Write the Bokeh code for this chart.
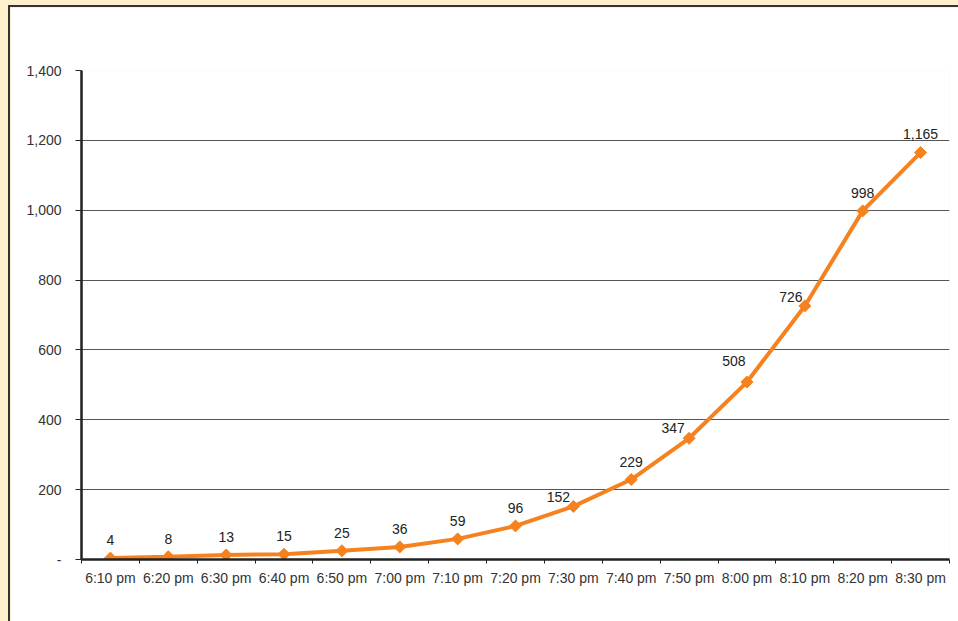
import numpy as np
from bokeh.plotting import figure
from bokeh.models import ColumnDataSource, FixedTicker, Range1d, LabelSet
from bokeh.core.properties import value
from bokeh.embed import file_html
from bokeh.resources import INLINE

times = ["6:10 pm", "6:20 pm", "6:30 pm", "6:40 pm", "6:50 pm", "7:00 pm", "7:10 pm",
         "7:20 pm", "7:30 pm", "7:40 pm", "7:50 pm", "8:00 pm", "8:10 pm", "8:20 pm", "8:30 pm"]
counts = [4, 8, 13, 15, 25, 36, 59, 96, 152, 229, 347, 508, 726, 998, 1165]
y_ticks = [0, 200, 400, 600, 800, 1000, 1200, 1400]

# label offsets (style only)
label_dx = [0, 0, 0, 0, 0, 0, 0, 0, -15, 0, -16, -13, -14, 0, 0]
label_dy = [13, 13, 13, 13, 13, 13, 13, 13, 4, 13, 5, 16, 4, 13, 14]

FONT = "Liberation Sans"
ORANGE = "#F5821F"
FS = "14px"

x = np.arange(len(times)) + 0.5
src = ColumnDataSource(dict(
    x=x, y=counts,
    lbl=[f"{v:,}" for v in counts],
    dx=label_dx, dy=label_dy,
))

p = figure(width=950, height=616, output_backend="svg", toolbar_location=None,
           x_range=Range1d(0, len(times)), y_range=Range1d(0, 1400),
           min_border_left=71, min_border_right=11, min_border_top=63, min_border_bottom=64)
p.border_fill_color = "white"
p.background_fill_color = "white"
p.outline_line_color = None
p.styles = {"border-left": "2px solid #333", "border-top": "2px solid #333",
            "box-sizing": "border-box"}

# line + markers
p.line("x", "y", source=src, line_color=ORANGE, line_width=4)
p.scatter("x", "y", source=src, marker="square", angle=np.pi / 4, size=8.5,
          fill_color=ORANGE, line_color=ORANGE)

labels = LabelSet(x="x", y="y", text="lbl", source=src, x_offset="dx", y_offset="dy",
                  text_align="center", text_baseline="bottom",
                  text_font=value(FONT), text_font_size=FS, text_color="#222222")
p.add_layout(labels)

# x axis
xa = p.xaxis[0]
xa.ticker = FixedTicker(ticks=list(x), minor_ticks=list(range(len(times) + 1)))
xa.major_label_overrides = {float(xi): t for xi, t in zip(x, times)}
xa.major_tick_out = 0
xa.major_tick_in = 0
xa.minor_tick_out = 4
xa.minor_tick_in = 0
xa.minor_tick_line_color = "#222222"
xa.axis_line_color = "#222222"
xa.axis_line_width = 2.5
xa.major_label_standoff = 6
xa.major_label_text_font = FONT
xa.major_label_text_font_size = FS
xa.major_label_text_color = "#333333"

# y axis
ya = p.yaxis[0]
ya.ticker = FixedTicker(ticks=y_ticks, minor_ticks=[])
ya.major_label_overrides = {t: ("-" if t == 0 else f"{t:,}") for t in y_ticks}
ya.major_tick_out = 6
ya.major_tick_in = 0
ya.major_tick_line_color = "#222222"
ya.axis_line_color = "#222222"
ya.axis_line_width = 2.5
ya.major_label_standoff = 14
ya.major_label_text_font = FONT
ya.major_label_text_font_size = FS
ya.major_label_text_color = "#333333"

p.xgrid.grid_line_color = None
p.ygrid.grid_line_color = "#555555"
p.ygrid.grid_line_width = 1

html = file_html(p, INLINE)
html = html.replace(
    "</head>",
    "<style>html,body{background:#FEF0CD;}body{padding:5px 0 0 8px !important;"
    "box-sizing:border-box;}</style></head>", 1)
open("out.html", "w").write(html)
